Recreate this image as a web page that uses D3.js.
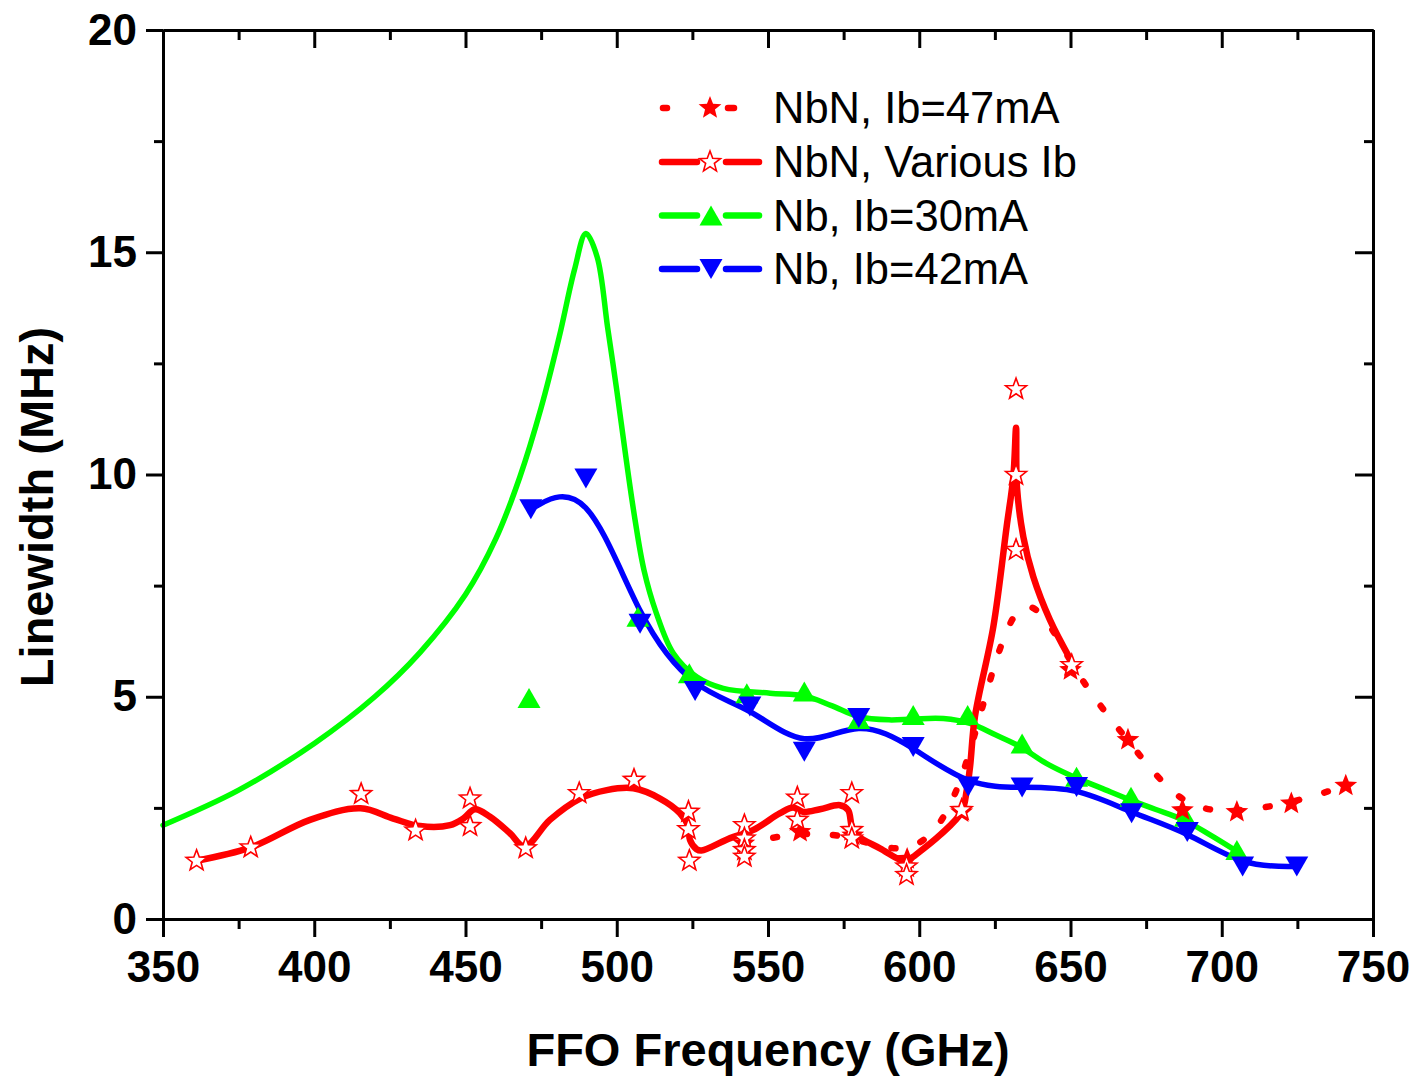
<!DOCTYPE html>
<html>
<head>
<meta charset="utf-8">
<script src="https://cdn.jsdelivr.net/npm/d3@7"></script>
<style>
  html, body { margin: 0; padding: 0; background: #fff; }
  svg { display: block; }
  text { font-family: "Liberation Sans", Arial, sans-serif; fill: #000; }
</style>
</head>
<body>
<svg id="chart" width="1418" height="1078"></svg>
<script>
// ---- data -------------------------------------------------------------
// NbN, Ib = 47 mA (filled stars, dotted B-spline)
const nbn47Freq  = [542, 560.6, 578, 596, 614, 632, 650, 669, 687, 705, 723, 741];
const nbn47Width = [1.7, 1.96, 1.88, 1.35, 2.4, 8.3, 5.6, 4.03, 2.45, 2.41, 2.6, 3.0];

// NbN, various Ib (open stars)
const nbnVarFreq  = [361.1, 379, 415.5, 433.5, 451.5, 451.5, 469.9, 487.6, 505.7, 523.7, 523.7, 524,
                     542.2, 542.2, 542.2, 542.2, 559.7, 559.7, 577.7, 577.7, 577.7, 595.8, 595.8,
                     614, 632, 632, 632, 650.4];
const nbnVarWidth = [1.31, 1.61, 2.81, 1.99, 2.71, 2.09, 1.59, 2.83, 3.13, 2.41, 2.02, 1.31,
                     2.11, 1.81, 1.55, 1.40, 2.73, 2.23, 2.83, 2.0, 1.81, 1.18, 0.99,
                     2.45, 11.92, 9.99, 8.30, 5.71];
// smoothed trend through the various-Ib points
const nbnVarFitFreq  = [361.1, 379, 398.6, 415.3, 426.1, 435, 444.9, 449.3, 453.1, 458.1, 464.7, 469.5,
                        477.9, 487.9, 496.7, 505.5, 514.3, 520.9, 523.7, 524.2, 526.4, 528, 537.5, 545,
                        554, 558.3, 561.6, 567.2, 573.8, 576.5, 577.7, 579.3, 587, 595.8, 598, 606.9,
                        614, 615.7, 616.8, 618.4, 624.5, 628.9, 631.1, 632, 632.3, 634.4, 637.7, 643.2, 649.5];
const nbnVarFitWidth = [1.31, 1.61, 2.23, 2.49, 2.26, 2.09, 2.11, 2.26, 2.47, 2.3, 1.93, 1.63,
                        2.23, 2.71, 2.9, 2.94, 2.71, 2.38, 2.08, 1.78, 1.57, 1.54, 1.82, 2.0,
                        2.38, 2.51, 2.41, 2.47, 2.56, 2.45, 2.08, 1.89, 1.59, 1.29, 1.4, 1.89,
                        2.41, 2.9, 3.43, 4.55, 6.58, 8.83, 9.95, 11.05, 9.72, 8.6, 7.7, 6.73, 5.9];

// Nb, Ib = 30 mA (up triangles)
const nb30Freq  = [471, 507, 524, 543, 562, 580, 598, 616, 634, 652, 670, 688, 705];
const nb30Width = [4.97, 6.8, 5.53, 5.08, 5.12, 4.5, 4.59, 4.59, 3.95, 3.2, 2.75, 2.3, 1.55];
// fitted curve for Nb, Ib = 30 mA
const nb30FitFreq  = [350, 375, 400, 420, 435, 450, 460, 468, 475, 481, 486, 489.8, 493.5, 497,
                      500, 503, 506, 509, 513, 518.7, 526.4, 535.2, 550.7, 562, 571, 580, 590,
                      598, 608, 616.8, 625, 633.3, 642, 651, 660, 669.7, 678, 687.3, 696, 706];
const nb30FitWidth = [2.11, 2.9, 3.95, 5.0, 6.0, 7.3, 8.55, 9.95, 11.5, 13.1, 14.6, 15.42, 14.9, 13.3,
                      11.9, 10.4, 9.0, 7.85, 6.9, 5.98, 5.45, 5.19, 5.08, 5.02, 4.8, 4.55, 4.48,
                      4.5, 4.51, 4.4, 4.15, 3.88, 3.5, 3.2, 2.95, 2.68, 2.47, 2.23, 1.9, 1.48];

// Nb, Ib = 42 mA (down triangles, B-spline)
const nb42Freq  = [471.6, 489.8, 507.7, 525.9, 544, 562, 580, 598, 616.2, 634, 652, 670.2, 688.6, 706.9, 724.8];
const nb42Width = [9.22, 9.91, 6.64, 5.13, 4.78, 3.76, 4.52, 3.87, 2.98, 2.96, 2.97, 2.38, 1.96, 1.18, 1.18];

const xMajor = [350, 400, 450, 500, 550, 600, 650, 700, 750];
const xMinor = [375, 425, 475, 525, 575, 625, 675, 725];
const yMajor = [0, 5, 10, 15, 20];
const yMinor = [2.5, 7.5, 12.5, 17.5];

const legendLabels = ["NbN, Ib=47mA", "NbN, Various Ib", "Nb, Ib=30mA", "Nb, Ib=42mA"];

const RED = "#ff0000", GREEN = "#00ff00", BLUE = "#0000ff";

// ---- layout -----------------------------------------------------------
const svg = d3.select("#chart");
const plotLeft = 163, plotRight = 1373, plotTop = 30, plotBottom = 919;
const x = d3.scaleLinear().domain([350, 750]).range([plotLeft, plotRight]);
const y = d3.scaleLinear().domain([0, 20]).range([plotBottom, plotTop]);

const zip = (xs, ys) => xs.map((v, i) => [v, ys[i]]);

function starPath(R, r) {
  const pts = [];
  for (let i = 0; i < 10; i++) {
    const a = -Math.PI / 2 + i * Math.PI / 5;
    const rad = i % 2 === 0 ? R : r;
    pts.push([rad * Math.cos(a), rad * Math.sin(a)]);
  }
  return "M" + pts.map(p => p[0].toFixed(2) + "," + p[1].toFixed(2)).join("L") + "Z";
}
const openStar = starPath(11, 4.6);
const solidStar = starPath(12, 5.2);
const triUp = "M0,-10L11.5,10L-11.5,10Z";
const triDown = "M0,10L11.5,-10L-11.5,-10Z";

// ---- curves -----------------------------------------------------------
const plot = svg.append("g");
const lineBasis = d3.line().x(d => x(d[0])).y(d => y(d[1])).curve(d3.curveBasis);
const lineSmooth = d3.line().x(d => x(d[0])).y(d => y(d[1])).curve(d3.curveCatmullRom.alpha(0.5));

plot.append("path")
  .attr("d", lineSmooth(zip(nb30FitFreq, nb30FitWidth)))
  .attr("fill", "none").attr("stroke", GREEN).attr("stroke-width", 5.5)
  .attr("stroke-linejoin", "round").attr("stroke-linecap", "round");

plot.append("path")
  .attr("d", lineSmooth(zip(nbnVarFitFreq, nbnVarFitWidth)))
  .attr("fill", "none").attr("stroke", RED).attr("stroke-width", 6.5)
  .attr("stroke-linejoin", "round").attr("stroke-linecap", "round");

plot.append("path")
  .attr("d", lineBasis(zip(nb42Freq, nb42Width)))
  .attr("fill", "none").attr("stroke", BLUE).attr("stroke-width", 5.5)
  .attr("stroke-linejoin", "round").attr("stroke-linecap", "round");

plot.append("path")
  .attr("d", lineBasis(zip(nbn47Freq, nbn47Width)))
  .attr("fill", "none").attr("stroke", RED).attr("stroke-width", 6.5)
  .attr("stroke-dasharray", "4 26").attr("stroke-linecap", "round");

// ---- markers ----------------------------------------------------------
function markers(xs, ys, path, fill, stroke, sw) {
  plot.append("g").selectAll("path").data(zip(xs, ys)).join("path")
    .attr("transform", d => `translate(${x(d[0])},${y(d[1])})`)
    .attr("d", path).attr("fill", fill)
    .attr("stroke", stroke).attr("stroke-width", sw).attr("stroke-linejoin", "miter");
}
markers(nb30Freq, nb30Width, triUp, GREEN, "none", 0);
markers(nb42Freq, nb42Width, triDown, BLUE, "none", 0);
markers(nbn47Freq, nbn47Width, solidStar, RED, "none", 0);
markers(nbnVarFreq, nbnVarWidth, openStar, "#fff", RED, 1.6);

// ---- axes -------------------------------------------------------------
function styleAxis(g) {
  g.selectAll(".domain").attr("stroke", "#000").attr("stroke-width", 3);
  g.selectAll(".tick line").attr("stroke", "#000").attr("stroke-width", 3);
}
const fmt = d3.format("d");
const axisFont = g => g.selectAll("text")
  .attr("font-family", "'Liberation Sans', Arial, sans-serif")
  .attr("font-size", 44).attr("font-weight", "bold").attr("fill", "#000");

svg.append("g").attr("transform", `translate(0,${plotBottom})`)
  .call(d3.axisBottom(x).tickValues(xMajor).tickFormat(fmt).tickSize(18).tickSizeOuter(0).tickPadding(14))
  .call(styleAxis).call(axisFont);
svg.append("g").attr("transform", `translate(0,${plotBottom})`)
  .call(d3.axisBottom(x).tickValues(xMinor).tickFormat("").tickSize(10).tickSizeOuter(0))
  .call(styleAxis);
svg.append("g").attr("transform", `translate(0,${plotTop})`)
  .call(d3.axisTop(x).tickValues(xMajor).tickFormat("").tickSize(-18).tickSizeOuter(0))
  .call(styleAxis);
svg.append("g").attr("transform", `translate(0,${plotTop})`)
  .call(d3.axisTop(x).tickValues(xMinor).tickFormat("").tickSize(-10).tickSizeOuter(0))
  .call(styleAxis);

svg.append("g").attr("transform", `translate(${plotLeft},0)`)
  .call(d3.axisLeft(y).tickValues(yMajor).tickFormat(fmt).tickSize(17).tickSizeOuter(0).tickPadding(9))
  .call(styleAxis).call(axisFont);
svg.append("g").attr("transform", `translate(${plotLeft},0)`)
  .call(d3.axisLeft(y).tickValues(yMinor).tickFormat("").tickSize(9).tickSizeOuter(0))
  .call(styleAxis);
svg.append("g").attr("transform", `translate(${plotRight},0)`)
  .call(d3.axisRight(y).tickValues(yMajor).tickFormat("").tickSize(-18).tickSizeOuter(0))
  .call(styleAxis);
svg.append("g").attr("transform", `translate(${plotRight},0)`)
  .call(d3.axisRight(y).tickValues(yMinor).tickFormat("").tickSize(-9).tickSizeOuter(0))
  .call(styleAxis);

// axis titles
svg.append("text").attr("x", (plotLeft + plotRight) / 2).attr("y", 1066)
  .attr("text-anchor", "middle").attr("font-size", 47).attr("font-weight", "bold")
  .text("FFO Frequency (GHz)");
svg.append("text").attr("transform", "translate(53,507) rotate(-90)")
  .attr("text-anchor", "middle").attr("font-size", 47).attr("font-weight", "bold")
  .text("Linewidth (MHz)");

// ---- legend -----------------------------------------------------------
const legend = svg.append("g");
const rowY = [108, 162, 215.5, 269];
const seg = (x1, x2, yy, color) => legend.append("line")
  .attr("x1", x1).attr("x2", x2).attr("y1", yy).attr("y2", yy)
  .attr("stroke", color).attr("stroke-width", 6.5).attr("stroke-linecap", "round");

// row 1: dotted with filled star
seg(663, 667, rowY[0], RED);
seg(728, 734, rowY[0], RED);
legend.append("path").attr("transform", `translate(710,${rowY[0]})`).attr("d", solidStar).attr("fill", RED);
// row 2: solid with open star
seg(662, 697, rowY[1], RED);
seg(726, 759, rowY[1], RED);
legend.append("path").attr("transform", `translate(710,${rowY[1]})`).attr("d", openStar)
  .attr("fill", "#fff").attr("stroke", RED).attr("stroke-width", 1.6);
// row 3: green with up triangle
seg(662, 697, rowY[2], GREEN);
seg(726, 759, rowY[2], GREEN);
legend.append("path").attr("transform", `translate(711,${rowY[2]})`).attr("d", triUp).attr("fill", GREEN);
// row 4: blue with down triangle
seg(662, 697, rowY[3], BLUE);
seg(726, 759, rowY[3], BLUE);
legend.append("path").attr("transform", `translate(711,${rowY[3]})`).attr("d", triDown).attr("fill", BLUE);

legend.selectAll("text.lbl").data(legendLabels).join("text").attr("class", "lbl")
  .attr("x", 773).attr("y", (d, i) => rowY[i] + 15)
  .attr("font-size", 43.5).text(d => d);
</script>
</body>
</html>
